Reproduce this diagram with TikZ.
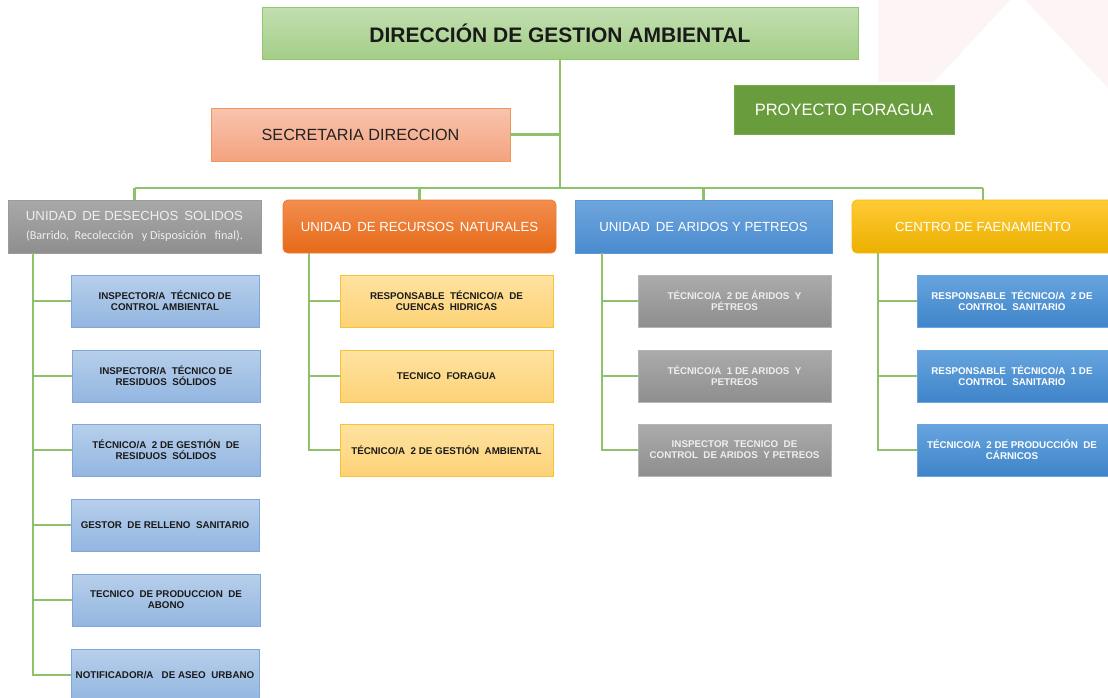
\documentclass[tikz,border=0pt]{standalone}
\usepackage{fontspec}
\setmainfont{Liberation Sans}
\newfontfamily\carl{Carlito}
\definecolor{lineg}{HTML}{8DC26A}
\definecolor{wm}{HTML}{FDF5F5}
\definecolor{tT}{HTML}{C3DFB1}\definecolor{tB}{HTML}{A3CE87}\definecolor{tD}{HTML}{93C572}
\definecolor{sT}{HTML}{F8C4AE}\definecolor{sB}{HTML}{F4A380}\definecolor{sD}{HTML}{F0955F}
\definecolor{pF}{HTML}{699C3C}\definecolor{pD}{HTML}{72AD4A}
\definecolor{gT}{HTML}{A9A9A9}\definecolor{gB}{HTML}{8E8E8E}\definecolor{gD}{HTML}{9B9B9B}\definecolor{gX}{HTML}{EFEFEF}
\definecolor{oT}{HTML}{F28D4E}\definecolor{oB}{HTML}{E66A18}\definecolor{oD}{HTML}{EE7A30}
\definecolor{bT}{HTML}{6FA6DD}\definecolor{bB}{HTML}{4A8BD0}\definecolor{bD}{HTML}{5C98D6}
\definecolor{yT}{HTML}{FFCA35}\definecolor{yB}{HTML}{EBB000}\definecolor{yD}{HTML}{F5BC10}
\definecolor{lbT}{HTML}{B7CFEB}\definecolor{lbB}{HTML}{93B6E0}\definecolor{lbD}{HTML}{7FA7DA}
\definecolor{lyT}{HTML}{FFE3A0}\definecolor{lyB}{HTML}{FDD277}\definecolor{lyD}{HTML}{F9C232}
\definecolor{cgT}{HTML}{ABABAB}\definecolor{cgB}{HTML}{8E8E8E}\definecolor{cgD}{HTML}{B5B5B5}\definecolor{cgX}{HTML}{EEEEEE}
\definecolor{cbT}{HTML}{66A4DE}\definecolor{cbB}{HTML}{3F85CA}\definecolor{cbD}{HTML}{6AA6DD}
\definecolor{dk}{HTML}{1A1A1A}\definecolor{dk2}{HTML}{222222}
\begin{document}
\begin{tikzpicture}[x=1pt,y=-1pt,
  conn/.style={draw=lineg, line width=2.6pt},
  box/.style={rectangle, inner sep=0pt, outer sep=0pt, align=center, line width=0.8pt},
  titlebox/.style={box, minimum width=596pt, minimum height=52pt, top color=tT, bottom color=tB, draw=tD, font=\bfseries\fontsize{21}{25}\selectfont, text=dk},
  secbox/.style={box, minimum width=299pt, minimum height=53pt, top color=sT, bottom color=sB, draw=sD, font=\fontsize{16.2}{19}\selectfont, text=dk2},
  projbox/.style={box, minimum width=220pt, minimum height=49pt, fill=pF, draw=pD, font=\fontsize{16.5}{19}\selectfont, text=white},
  hdr/.style={box, minimum height=53pt, font=\fontsize{13.2}{15}\selectfont, text=white},
  hgray/.style={hdr, minimum width=253pt, top color=gT, bottom color=gB, draw=gD, text=gX},
  horange/.style={hdr, minimum width=273pt, rounded corners=5pt, top color=oT, bottom color=oB, draw=oD},
  hblue/.style={hdr, minimum width=257pt, top color=bT, bottom color=bB, draw=bD},
  hgold/.style={hdr, minimum width=262pt, rounded corners=5pt, top color=yT, bottom color=yB, draw=yD},
  child/.style={box, minimum height=52pt, font=\bfseries\fontsize{9.8}{10.8}\selectfont},
  clb/.style={child, minimum width=188pt, top color=lbT, bottom color=lbB, draw=lbD, text=dk},
  cyl/.style={child, minimum width=213pt, top color=lyT, bottom color=lyB, draw=lyD, text=dk},
  cgr/.style={child, minimum width=193pt, top color=cgT, bottom color=cgB, draw=cgD, text=cgX},
  cbl/.style={child, minimum width=196pt, top color=cbT, bottom color=cbB, draw=cbD, text=white}
]
\useasboundingbox (0,0) rectangle (1108,697);
\clip (0,0) rectangle (1108,697);
\fill[white] (0,0) rectangle (1108,697);
% faint watermark
\fill[wm] (878,0) -- (1010,0) -- (934,82) -- (878,82) -- cycle;
\fill[wm] (1025,0) -- (1108,0) -- (1108,88) -- cycle;

\coordinate (bus) at (560,188);
\coordinate (v1) at (33,253);
\coordinate (v2) at (309,253);
\coordinate (v3) at (602,253);
\coordinate (v4) at (878,253);

% top level
\node[titlebox] (dir) at (560,33) {DIRECCIÓN DE GESTION AMBIENTAL};
\node[secbox] (sec) at (360.5,134.5) {SECRETARIA DIRECCION};
\node[projbox] (proj) at (844,109.5) {PROYECTO FORAGUA};

% headers
\node[hgray] (h1) at (134.5,226.5) {UNIDAD\, DE DESECHOS\, SOLIDOS\\[4pt]{\carl\fontsize{12.2}{13}\selectfont (Barrido,\ \ Recolección\ \ \ y Disposición\ \ \ final).}};
\node[horange] (h2) at (419.5,226.5) {UNIDAD\, DE RECURSOS\, NATURALES};
\node[hblue] (h3) at (703.5,226.5) {UNIDAD\, DE ARIDOS Y PETREOS};
\node[hgold] (h4) at (983,226.5) {CENTRO DE FAENAMIENTO};

% column 1
\node[clb] (c11) at (165,301) {INSPECTOR/A\ \ TÉCNICO DE\\CONTROL AMBIENTAL};
\node[clb] (c12) at (166,376) {INSPECTOR/A\ \ TÉCNICO DE\\RESIDUOS\ \ SÓLIDOS};
\node[clb] (c13) at (166,450) {TÉCNICO/A\ \ 2 DE GESTIÓN\ \ DE\\RESIDUOS\ \ SÓLIDOS};
\node[clb] (c14) at (165,525) {GESTOR\ \ DE RELLENO\ \ SANITARIO};
\node[clb] (c15) at (166,600) {TECNICO\ \ DE PRODUCCION\ \ DE\\ABONO};
\node[clb] (c16) at (165,675) {NOTIFICADOR/A\ \ \ DE ASEO\ \ URBANO};

% column 2
\node[cyl] (c21) at (446.5,301) {RESPONSABLE\ \ TÉCNICO/A\ \ DE\\CUENCAS\ \ HIDRICAS};
\node[cyl] (c22) at (446.5,376) {TECNICO\ \ FORAGUA};
\node[cyl] (c23) at (446.5,450) {TÉCNICO/A\ \ 2 DE GESTIÓN\ \ AMBIENTAL};

% column 3
\node[cgr] (c31) at (734.5,301) {TÉCNICO/A\ \ 2 DE ÁRIDOS\ \ Y\\PÉTREOS};
\node[cgr] (c32) at (734.5,376) {TÉCNICO/A\ \ 1 DE ARIDOS\ \ Y\\PETREOS};
\node[cgr] (c33) at (734.5,450) {INSPECTOR\ \ TECNICO\ \ DE\\CONTROL\ \ DE ARIDOS\ \ Y PETREOS};

% column 4
\node[cbl] (c41) at (1015,301) {\hspace*{-6pt}RESPONSABLE\ \ TÉCNICO/A\ \ 2 DE\\\hspace*{-6pt}CONTROL\ \ SANITARIO};
\node[cbl] (c42) at (1015,376) {\hspace*{-6pt}RESPONSABLE\ \ TÉCNICO/A\ \ 1 DE\\\hspace*{-6pt}CONTROL\ \ SANITARIO};
\node[cbl] (c43) at (1015,450) {\hspace*{-6pt}TÉCNICO/A\ \ 2 DE PRODUCCIÓN\ \ DE\\\hspace*{-6pt}CÁRNICOS};

% connectors
\draw[conn] (dir.south) -- (bus);
\draw[conn] (sec.east) -- (sec.east -| dir.south);
\draw[conn] (h1.north |- bus) -- (h4.north |- bus);
\foreach \h in {h1,h2,h3,h4} \draw[conn] (\h.north |- bus) -- (\h.north);
\draw[conn] (v1) |- (c16.west);
\foreach \c in {c11,c12,c13,c14,c15} \draw[conn] (v1 |- \c.west) -- (\c.west);
\draw[conn] (v2) |- (c23.west);
\foreach \c in {c21,c22} \draw[conn] (v2 |- \c.west) -- (\c.west);
\draw[conn] (v3) |- (c33.west);
\foreach \c in {c31,c32} \draw[conn] (v3 |- \c.west) -- (\c.west);
\draw[conn] (v4) |- (c43.west);
\foreach \c in {c41,c42} \draw[conn] (v4 |- \c.west) -- (\c.west);
\end{tikzpicture}
\end{document}
